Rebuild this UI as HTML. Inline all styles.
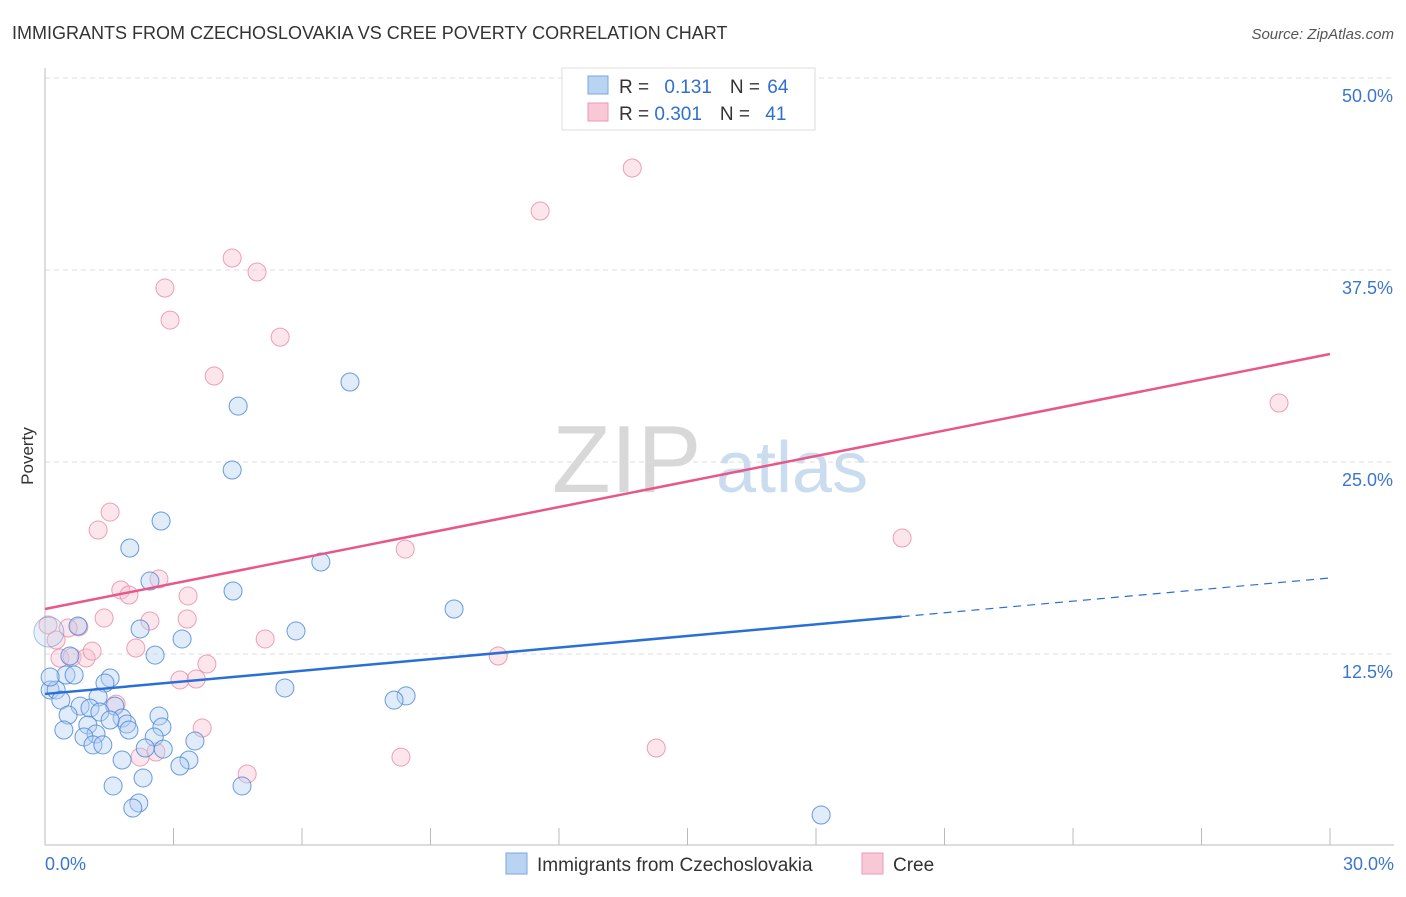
<!DOCTYPE html>
<html><head><meta charset="utf-8"><style>
body{margin:0;background:#fff;font-family:"Liberation Sans",sans-serif}
svg text{font-family:"Liberation Sans",sans-serif}
</style></head><body>
<svg id="chart" width="1406" height="892" xmlns="http://www.w3.org/2000/svg">
<text x="12" y="39" font-size="18" fill="#333">IMMIGRANTS FROM CZECHOSLOVAKIA VS CREE POVERTY CORRELATION CHART</text>
<text x="1394" y="39" font-size="15" fill="#555" text-anchor="end" font-style="italic">Source: ZipAtlas.com</text>
<g>
<text x="552" y="492" font-size="96" fill="#d8d8d8" font-family="Liberation Serif">ZIP</text>
<text x="716" y="492" font-size="72" fill="#c9dcf0">atlas</text>
</g>
<g id="grid"></g><g id="axes"></g><g id="points"></g><g id="trends"></g>
<text transform="translate(33,456) rotate(-90)" font-size="17" fill="#333" text-anchor="middle">Poverty</text>
<g>
<rect x="562" y="68" width="253" height="62" fill="#fff" stroke="#ddd"/>
<rect x="588" y="76" width="20" height="18" fill="#b9d3f3" stroke="#7aa6df"/>
<rect x="588" y="103" width="20" height="18" fill="#f8c8d6" stroke="#eb9ab3"/>
<text x="619" y="93" font-size="19" fill="#333">R = <tspan fill="#2f6fd0" dx="10">0.131</tspan><tspan fill="#333" dx="18">N = </tspan><tspan fill="#2f6fd0" dx="2">64</tspan></text>
<text x="619" y="120" font-size="19" fill="#333">R = <tspan fill="#2f6fd0">0.301</tspan><tspan fill="#333" dx="18">N = </tspan><tspan fill="#2f6fd0" dx="10">41</tspan></text>
</g>
<g>
<rect x="506" y="853" width="21" height="21" fill="#b9d3f3" stroke="#7aa6df"/>
<text x="537" y="871" font-size="19" fill="#333">Immigrants from Czechoslovakia</text>
<rect x="862" y="853" width="21" height="21" fill="#f8c8d6" stroke="#eb9ab3"/>
<text x="893" y="871" font-size="19" fill="#333">Cree</text>
</g>
</svg>
<script>
const xTicks=[0,3,6,9,12,15,18,21,24,27,30];
const yTicks=[12.5,25,37.5,50];
const yTickLabels=["12.5%","25.0%","37.5%","50.0%"];
const blueX=[7.12,4.51,4.37,2.71,1.98,6.44,2.45,4.39,9.55,2.22,3.20,5.86,2.57,0.09,0.58,0.49,0.68,0.12,0.26,1.52,1.40,1.24,0.37,5.60,8.43,8.15,0.82,1.05,1.63,1.28,0.54,1.80,1.91,2.66,1.52,1.00,0.44,1.19,1.96,2.73,0.91,1.12,1.35,2.55,3.50,2.34,2.76,1.80,3.36,3.15,2.29,1.59,4.60,2.19,2.05,18.12,0.12,0.77];
const blueY=[30.21,28.64,24.48,21.16,19.40,18.49,17.25,16.60,15.43,14.13,13.48,14.00,12.43,13.93,12.37,11.13,11.13,10.16,10.16,10.94,10.61,9.70,9.50,10.29,9.77,9.50,9.11,8.98,9.11,8.72,8.53,8.33,7.94,8.46,8.20,7.88,7.55,7.29,7.55,7.75,7.10,6.58,6.58,7.10,6.84,6.38,6.31,5.60,5.60,5.21,4.43,3.91,3.91,2.80,2.47,2.02,11.0,14.32];
const pinkX=[13.71,11.56,4.37,4.95,2.80,2.92,5.49,3.95,28.81,1.52,1.24,20.01,8.41,1.77,2.66,1.96,3.34,1.38,2.45,3.32,0.79,0.54,0.07,0.26,0.35,0.63,0.96,1.10,2.12,5.14,3.78,3.15,3.53,10.58,1.66,3.67,2.22,2.59,4.72,8.31,14.27];
const pinkY=[44.14,41.34,38.28,37.37,36.33,34.24,33.13,30.60,28.84,21.74,20.57,20.05,19.33,16.67,17.38,16.34,16.28,14.84,14.65,14.78,14.26,14.19,14.39,13.41,12.24,12.30,12.24,12.69,12.89,13.48,11.85,10.81,10.87,12.37,9.24,7.68,5.79,6.12,4.69,5.79,6.38];
const blueTrend=[9.9,17.45], blueSolidEnd=20.0;
const pinkTrend=[15.43,32.03];
const NS="http://www.w3.org/2000/svg";
const X=v=>45+v/30*1285, Y=v=>846-v/50*768;
function mk(tag,attrs,parent){const e=document.createElementNS(NS,tag);for(const k in attrs)e.setAttribute(k,attrs[k]);document.getElementById(parent).appendChild(e);return e;}
yTicks.forEach((t,i)=>{
 const l=mk('line',{x1:45,x2:1394,y1:Y(t),y2:Y(t),stroke:'#ddd','stroke-dasharray':'5,4'},'grid');
 
 
 const tx=mk('text',{x:1393,y:Y(t)+24,'font-size':18,fill:'#3a76d0','text-anchor':'end'},'grid');
 tx.textContent=yTickLabels[i];
 
 
});
const ax=mk('line',{x1:45,x2:45,y1:68,y2:845,stroke:'#bbb'},'axes');


const bx=mk('line',{x1:45,x2:1394,y1:845,y2:845,stroke:'#bbb'},'axes');


xTicks.forEach(t=>{
 const l=mk('line',{x1:X(t),x2:X(t),y1:828,y2:845,stroke:'#bbb'},'axes');
 
 
});
[[0,"0.0%","start",45],[30,"30.0%","end",1394]].forEach(a=>{
 const tx=mk('text',{x:a[3],y:870,'font-size':18,fill:'#3a76d0','text-anchor':a[2]},'axes');
 tx.textContent=a[1];
 
 
});
function pts(xs,ys,fill,stroke,name){xs.forEach((x,i)=>{
 const big=(name==='blue-point'&&i===13);
 const c=mk('circle',{cx:X(x),cy:Y(ys[i]),r:big?15:9,fill:fill,'fill-opacity':big?0.3:0.4,stroke:stroke,'stroke-opacity':big?0.5:0.85,'stroke-width':1},'points');
 
 
});}
pts(pinkX,pinkY,'#f8c0d0','#e98fab','cree-point');
pts(blueX,blueY,'#b3cff2','#4f8ad8','blue-point');
const t1=mk('line',{x1:X(0),y1:Y(pinkTrend[0]),x2:X(30),y2:Y(pinkTrend[1]),stroke:'#e8578a','stroke-width':2.5},'trends');


const yb=x=>blueTrend[0]+(blueTrend[1]-blueTrend[0])*x/30;
const t2=mk('line',{x1:X(0),y1:Y(yb(0)),x2:X(blueSolidEnd),y2:Y(yb(blueSolidEnd)),stroke:'#2a6fd6','stroke-width':2.5},'trends');


const t3=mk('line',{x1:X(blueSolidEnd),y1:Y(yb(blueSolidEnd)),x2:X(30),y2:Y(yb(30)),stroke:'#2a6fd6','stroke-width':1.2,'stroke-dasharray':'8,6'},'trends');


</script>
</body></html>
